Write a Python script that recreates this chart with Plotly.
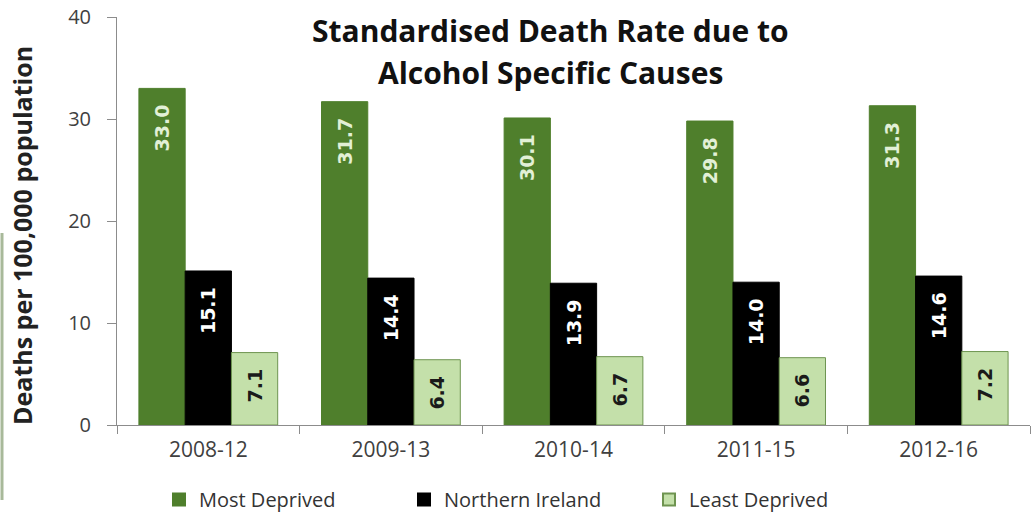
import plotly.graph_objects as go

periods = ["2008-12", "2009-13", "2010-14", "2011-15", "2012-16"]
most_deprived = [33.0, 31.7, 30.1, 29.8, 31.3]
northern_ireland = [15.1, 14.4, 13.9, 14.0, 14.6]
least_deprived = [7.1, 6.4, 6.7, 6.6, 7.2]

series = [
    ("Most Deprived", most_deprived, "#4F7F2C", "#4F7F2C", "#E2F0D6"),
    ("Northern Ireland", northern_ireland, "#000000", "#000000", "#FFFFFF"),
    ("Least Deprived", least_deprived, "#C4E0AA", "#6E9450", "#1A1A1A"),
]

fig = go.Figure()
for name, vals, fill, line, tcol in series:
    fig.add_trace(go.Bar(
        x=periods, y=vals, name=name,
        marker=dict(color=fill, line=dict(color=line, width=1)),
        text=[f"{v:.1f}\u00a0\u00a0" for v in vals],
        textposition="inside", insidetextanchor="end", textangle=-90,
        textfont=dict(family="DejaVu Sans", size=19, color=tcol, weight="bold"),
        constraintext="none",
    ))

fig.update_layout(
    width=1033, height=522,
    margin=dict(l=117, r=3, t=17, b=97, autoexpand=False),
    paper_bgcolor="white", plot_bgcolor="white",
    barmode="group", bargap=0.24, bargroupgap=0,
    font=dict(family="Open Sans", color="#404040"),
    legend=dict(orientation="h", x=0.046, xanchor="left", y=-0.135, yanchor="top",
                font=dict(family="Open Sans", size=20, color="#333333"),
                itemwidth=30, traceorder="normal", entrywidth=200,
                itemsizing="constant"),
    showlegend=True,
    annotations=[
        dict(text="<b>Standardised Death Rate due to</b>", xref="paper", yref="paper",
             x=0.475, y=(425 - 31) / 408, xanchor="center", yanchor="middle", showarrow=False,
             font=dict(family="Open Sans", size=30, color="#111111")),
        dict(text="<b>Alcohol Specific Causes</b>", xref="paper", yref="paper",
             x=0.475, y=(425 - 73) / 408, xanchor="center", yanchor="middle", showarrow=False,
             font=dict(family="Open Sans", size=30, color="#111111")),
        dict(text="<b>Deaths per 100,000 population</b>", xref="paper", yref="paper",
             x=(22 - 117) / 913, y=(425 - 236) / 408, xanchor="center", yanchor="middle",
             textangle=-90, showarrow=False,
             font=dict(family="Open Sans", size=25, color="#222222")),
    ],
    shapes=[
        dict(type="line", xref="paper", yref="paper",
             x0=-115 / 913, x1=-115 / 913, y0=(425 - 233) / 408, y1=(425 - 500) / 408,
             line=dict(color="#a8b99a", width=3)),
    ],
)
fig.update_yaxes(range=[0, 40], dtick=10, showgrid=False, showline=True, automargin=False,
                 linecolor="#8c8c8c", ticks="outside", ticklen=9, tickcolor="#8c8c8c",
                 ticklabelstandoff=12,
                 tickfont=dict(size=20, color="#404040"))
fig.update_xaxes(type="category", showline=True, linecolor="#8c8c8c", ticks="outside",
                 automargin=False, tickson="boundaries", ticklen=8, tickcolor="#8c8c8c",
                 ticklabelstandoff=6,
                 tickfont=dict(size=21, color="#404040"))

fig.write_html("out.html")
